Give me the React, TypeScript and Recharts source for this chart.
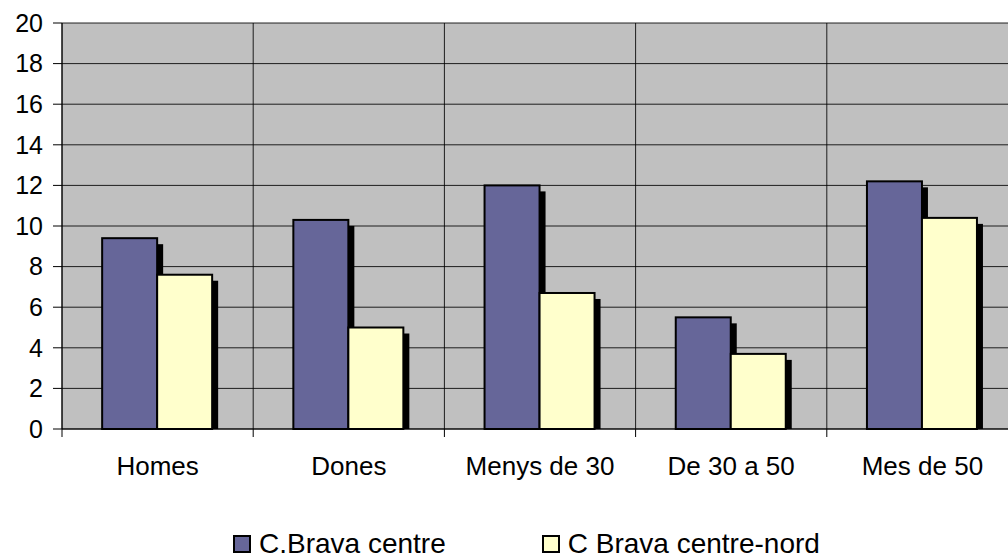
import React from "react";
import {
  BarChart,
  Bar,
  XAxis,
  YAxis,
  CartesianGrid,
  Legend,
} from "recharts";

const categories = ["Homes", "Dones", "Menys de 30", "De 30 a 50", "Mes de 50"];
const centre = [9.4, 10.3, 12.0, 5.5, 12.2];
const centreNord = [7.6, 5.0, 6.7, 3.7, 10.4];
const yTicks = [0, 2, 4, 6, 8, 10, 12, 14, 16, 18, 20];

const SERIES = [
  { key: "centre", name: "C.Brava centre", color: "#666699" },
  { key: "centreNord", name: "C Brava centre-nord", color: "#FFFFCC" },
];

const data = categories.map((name, i) => ({
  name,
  centre: centre[i],
  centreNord: centreNord[i],
}));

const FONT = "'Liberation Sans', Arial, sans-serif";
const WIDTH = 1020;
const HEIGHT = 560;
const MARGIN = { top: 23, right: 2, bottom: 0, left: 0 };
const Y_WIDTH = 62;
const BAND = (WIDTH - MARGIN.left - MARGIN.right - Y_WIDTH) / categories.length;

// bar with the old-Excel drop shadow
const ShadowBar = (props: any) => {
  const { x, y, width, height, fill } = props;
  if (!height || height <= 0) return null;
  const s = 6;
  return (
    <g>
      <rect x={x + width - 1} y={y + s} width={s + 1} height={height - s} fill="#000" />
      <rect x={x} y={y} width={width} height={height} fill={fill} stroke="#000" strokeWidth={2} />
    </g>
  );
};

const XTick = (props: any) => {
  const { x, y, payload } = props;
  const left = x - BAND / 2;
  return (
    <g>
      <line x1={left} y1={y} x2={left} y2={y + 8} stroke="#000" strokeWidth={1} />
      <text x={x} y={y + 46} textAnchor="middle" fill="#000" fontSize={26} fontFamily={FONT}>
        {payload.value}
      </text>
    </g>
  );
};

const LegendBox = () => (
  <div
    style={{
      display: "flex",
      justifyContent: "flex-start",
      gap: 96,
      fontFamily: FONT,
      fontSize: 28,
      lineHeight: "28px",
      color: "#000",
      paddingTop: 10,
      paddingLeft: 233,
      whiteSpace: "nowrap",
    }}
  >
    {SERIES.map((s) => (
      <div key={s.key} style={{ display: "flex", alignItems: "center" }}>
        <span
          style={{
            display: "inline-block",
            width: 14,
            height: 14,
            background: s.color,
            border: "2px solid #000",
            marginRight: 8,
          }}
        />
        <span>{s.name}</span>
      </div>
    ))}
  </div>
);

export default function App() {
  return (
    <div
      style={{
        position: "fixed",
        left: 0,
        top: 0,
        width: 1008,
        height: HEIGHT,
        overflow: "hidden",
        background: "#fff",
      }}
    >
      <BarChart
        width={WIDTH}
        height={HEIGHT}
        data={data}
        margin={MARGIN}
        barCategoryGap="21%"
        barGap={0}
      >
        <CartesianGrid
          fill="#C0C0C0"
          stroke="#000"
          strokeOpacity={0.85}
          verticalCoordinatesGenerator={({ offset }: any) =>
            categories.map((_, i) => offset.left + (i * offset.width) / categories.length)
          }
        />
        <XAxis
          dataKey="name"
          height={91}
          tickLine={false}
          tickSize={0}
          tickMargin={0}
          axisLine={{ stroke: "#000" }}
          tick={<XTick />}
          interval={0}
        />
        <YAxis
          width={Y_WIDTH}
          domain={[0, 20]}
          ticks={yTicks}
          tickSize={9}
          tickMargin={10}
          tickLine={{ stroke: "#000" }}
          axisLine={{ stroke: "#000" }}
          tick={{ fill: "#000", fontSize: 25, fontFamily: FONT }}
          interval={0}
        />
        <Legend verticalAlign="bottom" height={40} content={<LegendBox />} />
        {SERIES.map((s) => (
          <Bar
            key={s.key}
            dataKey={s.key}
            name={s.name}
            fill={s.color}
            shape={<ShadowBar />}
            isAnimationActive={false}
          />
        ))}
      </BarChart>
    </div>
  );
}
